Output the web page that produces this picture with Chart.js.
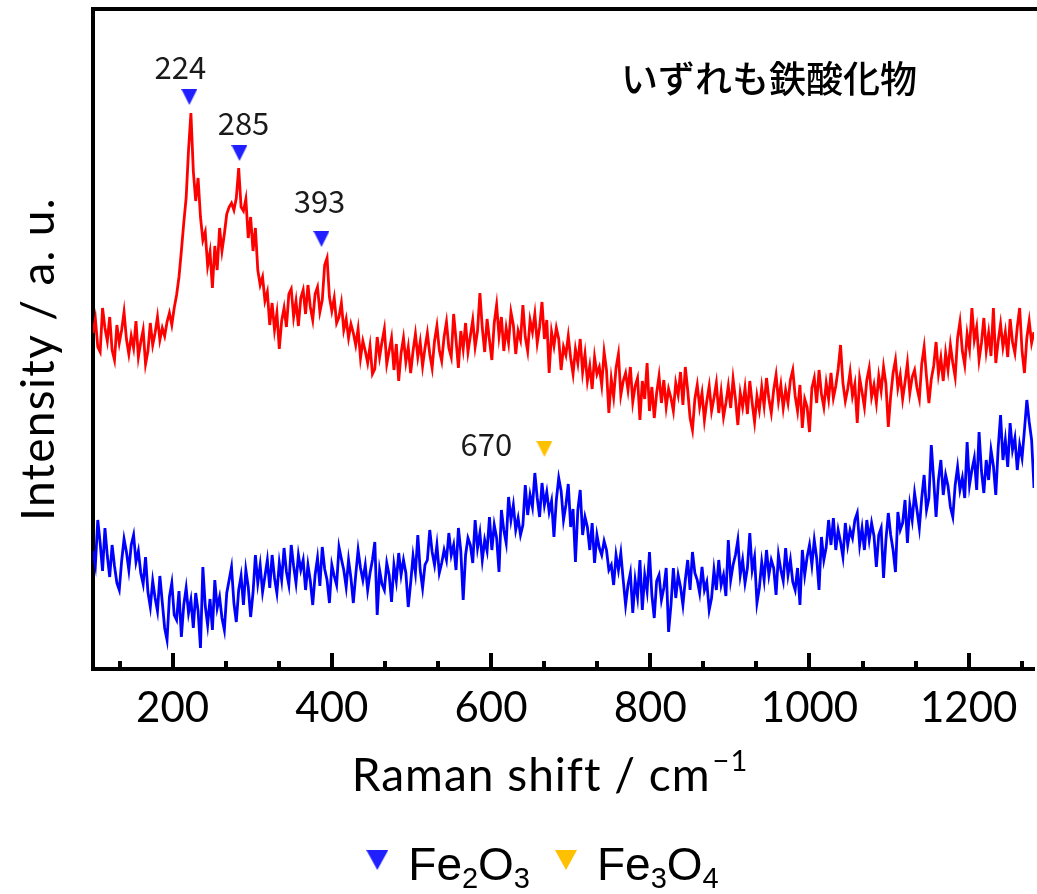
<!DOCTYPE html>
<html>
<head>
<meta charset="utf-8">
<script src="https://cdn.jsdelivr.net/npm/chart.js@4.4.1/dist/chart.umd.min.js"></script>
<style>
  html, body { margin: 0; padding: 0; background: #fff; overflow: hidden; width: 1037px; height: 894px; }
  canvas { display: block; }
</style>
</head>
<body>
<!-- 5px wider than the window: Chart.js keeps a 5px gap on the right, the plot runs off the edge as in the original -->
<canvas id="chart" width="1042" height="894"></canvas>
<script>
// Raman shift grid (cm-1): first point and spacing of the spectra
var shiftStart = 100;
var shiftStep = 3;

// upper spectrum (red), intensity a.u., rows of 10 points (100, 130, 160 ... cm-1)
var redIntensity = [
  336,350,322,317,361,341,328,352,319,309,
  344,326,339,357,330,315,333,321,348,312,
  327,339,305,318,346,324,336,352,329,341,
  333,347,356,344,361,374,392,418,446,471,
  519,556,498,468,491,452,429,437,403,417,
  381,423,399,441,418,435,455,462,466,459,
  471,501,462,458,470,431,452,418,441,399,
  384,392,368,377,344,366,339,356,320,348,
  361,342,375,380,352,368,343,371,379,355,
  384,362,349,375,382,357,369,404,411,372,
  358,371,346,352,366,339,350,331,345,336,
  324,340,311,328,318,306,323,295,300,332,
  312,327,340,305,318,331,299,325,288,316,
  331,307,322,296,318,335,312,327,303,321,
  336,315,301,328,343,319,308,332,347,321,
  312,355,329,301,338,320,346,317,333,349,
  322,338,376,341,317,350,329,309,346,364,
  333,352,318,341,326,357,344,315,338,329,
  364,332,318,349,337,355,326,342,367,330,
  349,296,337,323,341,330,299,322,314,333,
  311,295,320,306,330,297,315,288,303,280,
  312,295,302,284,317,299,256,290,272,301,
  315,274,288,296,279,302,267,283,291,249,
  288,270,306,258,282,251,276,293,266,289,
  262,280,271,258,286,274,297,264,302,279,
  251,239,270,284,262,276,249,268,283,258,
  271,286,256,277,252,266,283,261,290,270,
  244,276,262,281,255,288,266,247,273,259,
  282,263,291,270,256,279,294,268,284,261,
  279,266,289,299,273,258,284,241,270,262,
  237,281,291,266,299,275,262,286,270,296,
  271,283,300,324,286,268,280,297,273,285,
  246,291,277,262,289,301,272,284,266,293,
  278,302,285,242,273,296,309,281,294,270,
  287,306,276,292,299,281,270,305,322,292,
  266,290,303,327,295,311,288,316,299,324,
  306,292,331,347,318,304,335,320,361,329,
  342,309,326,351,318,336,313,361,306,328,
  345,322,337,312,350,327,316,342,361,318,
  296,331,348,326,337
];

// lower spectrum (blue), same grid
var blueIntensity = [
  118,104,149,126,98,141,113,92,124,103,
  86,79,108,130,117,99,124,134,107,118,
  96,85,112,77,62,88,71,58,93,67,
  41,29,72,86,54,49,78,32,64,81,
  56,69,41,76,58,21,102,63,44,70,
  39,89,61,72,51,39,76,89,102,66,
  47,79,93,64,99,82,52,76,114,86,
  104,77,93,109,81,114,91,76,106,89,
  121,97,84,124,103,86,114,99,109,79,
  104,88,64,94,111,83,122,100,89,66,
  104,93,84,122,110,99,82,109,91,66,
  94,119,101,89,104,79,96,109,127,54,
  99,85,79,106,94,67,104,88,116,94,
  109,96,62,86,113,96,134,99,81,104,
  109,139,117,104,124,96,106,119,109,136,
  114,124,99,141,118,69,114,131,124,106,
  149,121,136,109,129,118,152,119,144,131,
  97,159,139,126,172,149,164,139,151,134,
  144,184,154,174,162,196,171,152,186,164,
  177,157,168,132,169,191,178,149,164,185,
  142,160,107,159,179,134,152,142,119,146,
  106,134,121,114,128,119,99,104,84,114,
  99,116,89,64,84,96,56,89,72,109,
  59,94,78,117,74,51,88,94,69,81,
  101,37,64,101,71,94,82,64,89,109,
  79,117,96,89,76,102,79,87,59,71,
  99,79,109,84,94,73,129,89,104,114,
  129,94,109,86,101,136,99,112,66,81,
  107,89,119,94,109,101,74,114,99,88,
  121,94,109,87,79,101,64,119,94,112,
  124,104,129,111,79,132,109,122,149,124,
  151,119,139,127,112,146,124,139,131,149,
  156,124,141,119,149,129,146,133,102,134,
  141,91,129,156,134,119,97,157,139,146,
  169,126,164,149,176,159,141,171,194,159,
  171,224,189,152,189,209,174,194,183,162,
  152,184,202,179,191,171,227,184,199,211,
  179,237,198,176,209,189,219,203,174,221,
  254,209,229,202,246,219,231,199,224,211,
  239,269,247,229,181
];

// peak markers
var peakShift = [221, 284, 387, 667];
var peakLevel = [572, 516, 430, 220];
var peakLabel = ['224', '285', '393', '670'];
var peakPhase = ['Fe2O3', 'Fe2O3', 'Fe2O3', 'Fe3O4'];

var xTicks = [200, 400, 600, 800, 1000, 1200];
var xMin = 100, xMax = 1282;
var yMin = 0, yMax = 660;

var note = 'いずれも鉄酸化物';
var xTitle = 'Raman shift / cm';
var xTitleSup = '\u22121';
var yTitle = 'Intensity / a. u.';

// ---- styles ----
var colRed = '#ff0000';
var colBlue = '#0000ff';
var phaseColor = { Fe2O3: '#1f1fff', Fe3O4: '#ffc000' };
var legendItems = [
  { phase: 'Fe2O3', parts: [['Fe', 0], ['2', 1], ['O', 0], ['3', 1]] },
  { phase: 'Fe3O4', parts: [['Fe', 0], ['3', 1], ['O', 0], ['4', 1]] }
];
// label offset from its marker, px
var labelOffset = [[-9, -30], [4, -30], [-2, -38], [-58, -5]];

function toPoints(values) {
  return values.map(function (v, i) { return { x: shiftStart + i * shiftStep, y: v }; });
}

function triangle(color, w, h) {
  var c = document.createElement('canvas');
  c.width = w; c.height = h;
  var g = c.getContext('2d');
  g.fillStyle = color;
  g.beginPath();
  g.moveTo(0, 0); g.lineTo(w, 0); g.lineTo(w / 2, h);
  g.closePath(); g.fill();
  return c;
}

function markerSet(phase) {
  var pts = [];
  peakShift.forEach(function (s, i) {
    if (peakPhase[i] === phase) pts.push({ x: s, y: peakLevel[i] });
  });
  return {
    data: pts,
    showLine: false,
    pointStyle: triangle(phaseColor[phase], 16, 16),
    pointRadius: 8,
    borderWidth: 0
  };
}

var decor = {
  id: 'decor',
  afterDatasetsDraw: function (chart) {
    var ctx = chart.ctx, a = chart.chartArea;
    var xs = chart.scales.x, ys = chart.scales.y;
    ctx.save();
    ctx.strokeStyle = '#000';
    ctx.lineWidth = 4;
    ctx.lineCap = 'butt';

    // top frame
    ctx.beginPath();
    ctx.moveTo(a.left - 2, a.top);
    ctx.lineTo(a.right + 5, a.top);
    ctx.stroke();

    // inward ticks, 2 minor between majors
    for (var n = 1; n * 200 / 3 <= xs.max; n++) {
      var v = n * 200 / 3;
      if (v < xs.min) continue;
      var px = Math.round(xs.getPixelForValue(v));
      var len = (n % 3 === 0) ? 16 : 8;
      ctx.beginPath();
      ctx.moveTo(px, a.bottom);
      ctx.lineTo(px, a.bottom - len);
      ctx.stroke();
    }

    // peak numbers
    ctx.fillStyle = '#1a1a1a';
    ctx.font = '31px "Noto Sans CJK JP"';
    ctx.textAlign = 'center';
    ctx.textBaseline = 'middle';
    peakLabel.forEach(function (t, i) {
      var px = xs.getPixelForValue(peakShift[i]);
      var py = ys.getPixelForValue(peakLevel[i]);
      ctx.fillText(t, px + labelOffset[i][0], py + labelOffset[i][1]);
    });

    // note
    ctx.fillStyle = '#000';
    ctx.font = '500 37px "Noto Sans CJK JP"';
    ctx.textAlign = 'left';
    ctx.fillText(note, 621, 79);

    // x title with superscript
    ctx.letterSpacing = '1px';
    ctx.font = '46px Lato';
    var w1 = ctx.measureText(xTitle).width;
    ctx.font = '29px Lato';
    var w2 = ctx.measureText(xTitleSup).width;
    var x0 = 549 - (w1 + w2) / 2;
    ctx.textBaseline = 'alphabetic';
    ctx.font = '46px Lato';
    ctx.fillText(xTitle, x0, 791);
    ctx.font = '29px Lato';
    ctx.fillText(xTitleSup, x0 + w1 + 2, 771);

    // y title
    ctx.save();
    ctx.letterSpacing = '1.3px';
    ctx.translate(39, 359);
    ctx.rotate(-Math.PI / 2);
    ctx.font = '46px Lato';
    ctx.textAlign = 'center';
    ctx.textBaseline = 'middle';
    ctx.fillText(yTitle, 0, 0);
    ctx.restore();
    ctx.letterSpacing = '0px';

    // legend
    var big = '46px "Liberation Sans"', small = '29px "Liberation Sans"';
    var triW = 22, triH = 20, gapT = 20, gapI = 25;
    var widths = legendItems.map(function (it) {
      var w = 0;
      it.parts.forEach(function (p) {
        ctx.font = p[1] ? small : big;
        w += ctx.measureText(p[0]).width;
      });
      return w;
    });
    var total = 0;
    widths.forEach(function (w) { total += triW + gapT + w; });
    total += gapI * (legendItems.length - 1);
    var lx = 542.5 - total / 2;
    ctx.textAlign = 'left';
    ctx.textBaseline = 'alphabetic';
    legendItems.forEach(function (it) {
      ctx.drawImage(triangle(phaseColor[it.phase], triW, triH), lx, 850);
      var tx = lx + triW + gapT;
      it.parts.forEach(function (p) {
        ctx.font = p[1] ? small : big;
        ctx.fillText(p[0], tx, p[1] ? 888 : 880);
        tx += ctx.measureText(p[0]).width;
      });
      lx = tx + gapI;
    });

    ctx.restore();
  }
};

var config = {
  type: 'line',
  data: {
    datasets: [
      {
        data: toPoints(redIntensity),
        borderColor: colRed,
        borderWidth: 2.8,
        pointRadius: 0,
        tension: 0
      },
      {
        data: toPoints(blueIntensity),
        borderColor: colBlue,
        borderWidth: 2.8,
        pointRadius: 0,
        tension: 0
      },
      markerSet('Fe2O3'),
      markerSet('Fe3O4')
    ]
  },
  options: {
    responsive: false,
    devicePixelRatio: 1,
    animation: false,
    events: [],
    layout: { padding: { top: 9, left: 0, right: 0, bottom: 0 } },
    plugins: { legend: { display: false }, tooltip: { enabled: false } },
    scales: {
      x: {
        type: 'linear',
        min: xMin,
        max: xMax,
        afterBuildTicks: function (s) {
          s.ticks = xTicks.map(function (v) { return { value: v }; });
        },
        afterFit: function (s) {
          s.height = 225;
          s.paddingLeft = 0;
          s.paddingRight = 0;
        },
        ticks: {
          color: '#000',
          font: { family: 'Lato', size: 42 },
          padding: 14,
          maxRotation: 0,
          autoSkip: false,
          callback: function (v) { return String(v); }
        },
        grid: { drawOnChartArea: false, drawTicks: false },
        border: { display: true, color: '#000', width: 4 }
      },
      y: {
        min: yMin,
        max: yMax,
        afterBuildTicks: function (s) { s.ticks = []; },
        afterFit: function (s) { s.width = 93; },
        ticks: { display: false },
        grid: { drawOnChartArea: false, drawTicks: false },
        border: { display: true, color: '#000', width: 4 }
      }
    }
  },
  plugins: [decor]
};

window.onload = function () {
  var ctx = document.getElementById('chart').getContext('2d');
  window.ramanChart = new Chart(ctx, config);
};
</script>
</body>
</html>
